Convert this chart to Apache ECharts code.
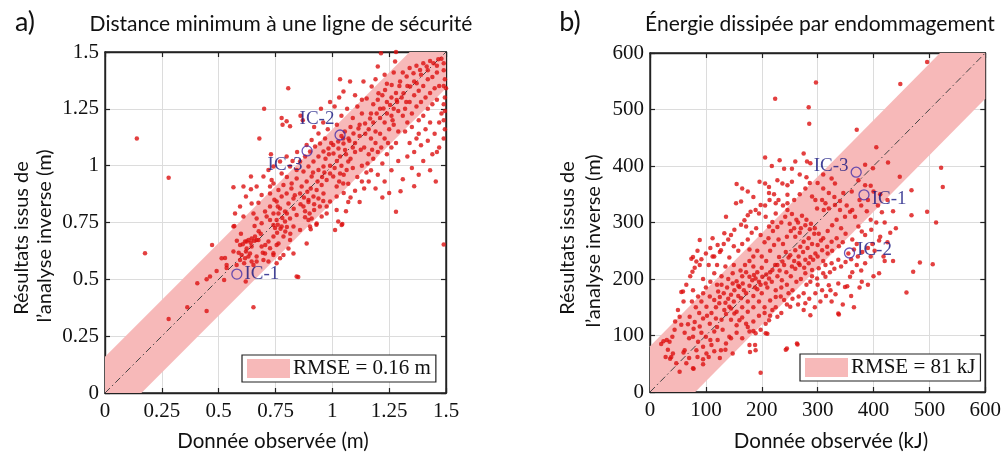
<!DOCTYPE html>
<html><head><meta charset="utf-8">
<script src="https://cdn.jsdelivr.net/npm/echarts@6/dist/echarts.min.js"></script>
<style>html,body{margin:0;padding:0;background:#fff}#c{width:1004px;height:452px}</style>
</head><body><div id="c"></div>
<script>
// ---------- tick values ----------
const ticksA = [0, 0.25, 0.5, 0.75, 1, 1.25, 1.5];
const ticksB = [0, 100, 200, 300, 400, 500, 600];
const rmseA = 0.16, rmseB = 81;
const legendA = 'RMSE = 0.16 m', legendB = 'RMSE = 81 kJ';
const titleA = 'Distance minimum à une ligne de sécurité';
const titleB = 'Énergie dissipée par endommagement';
const xNameA = 'Donnée observée (m)', xNameB = 'Donnée observée (kJ)';
const yName1 = 'Résultats issus de', yName2 = 'l’analyse inverse (m)';

// ---------- panel a points [observed, inverse] ----------
const pointsA = [
[0.14,1.12],[0.176,0.615],[0.28,0.947],[0.28,0.326],[0.362,0.377],[0.406,0.483],[0.447,0.361],[0.447,0.50],[0.462,0.512],[0.471,0.651],[0.491,0.537],[0.513,0.593],[0.524,0.497],[0.535,0.563],[0.528,0.594],[0.535,0.55],
[0.565,0.622],[0.569,0.735],[0.588,0.617],[0.606,0.654],[0.623,0.666],[0.641,0.661],[0.656,0.670],[0.667,0.673],[0.645,0.644],[0.620,0.622],[0.601,0.607],[0.631,0.600],[0.612,0.571],[0.594,0.585],[0.645,0.578],[0.653,0.563],[0.667,0.600],[0.694,0.617],[0.579,0.563],[0.619,0.490],[0.653,0.377],[0.565,0.905],[0.609,0.908],[0.642,0.896],[0.642,0.952],[0.594,0.82],[0.620,0.864],[0.645,0.834],[0.675,0.837],[0.679,1.12],[0.70,1.25],[0.565,0.732],[0.572,0.790],[0.609,0.776],[0.653,0.790],[0.667,0.768],[0.689,0.747],[0.594,0.651],[0.616,0.666],[0.631,0.673],[0.645,0.680],[0.660,0.688],[0.623,0.636],[0.638,0.614],[0.675,0.673],[0.689,0.644],[0.697,0.585],[0.616,0.593],[0.667,0.578],[0.689,0.871],[0.667,0.908],[0.697,0.952],[0.676,0.712],[0.658,0.735],[0.685,0.70],[0.598,0.70],[0.58,0.67],
[0.705,0.651],[0.726,0.637],[0.741,0.615],[0.755,0.651],[0.726,0.878],[0.726,0.908],[0.741,0.922],[0.733,0.937],[0.704,0.798],[0.726,0.761],[0.741,0.739],[0.755,0.761],[0.763,0.790],[0.777,0.732],[0.792,0.754],[0.814,0.768],[0.843,0.783],[0.829,0.856],[0.807,0.834],[0.719,0.666],[0.741,0.688],[0.763,0.658],[0.785,0.688],[0.814,0.673],[0.829,0.614],[0.770,0.593],[0.741,0.607],[0.704,0.614],[0.719,0.578],[0.755,0.571],[0.785,0.607],[0.807,0.636],[0.843,0.512],[0.726,0.820],[0.755,0.842],[0.770,0.812],[0.792,0.798],[0.741,0.790],[0.711,0.776],[0.829,0.732],[0.799,0.878],[0.777,0.864],[0.785,0.915],[0.763,0.893],[0.843,0.944],[0.821,0.922],[0.843,0.981],[0.814,0.996],[0.719,0.981],[0.741,0.996],[0.777,0.966],[0.770,1.018],[0.799,1.040],[0.777,1.21],[0.799,1.195],[0.781,1.18],[0.814,1.173],[0.806,1.34],[0.73,1.05],[0.757,0.705],[0.772,0.722],[0.748,0.726],[0.793,0.71],[0.80,0.73],[0.76,0.74],[0.815,0.70],[0.78,0.77],[0.80,0.79],[0.83,0.81],[0.76,0.82],[0.745,0.85],[0.82,0.90],[0.835,0.87],[0.80,0.95],[0.825,1.02],[0.845,1.06],
[0.858,0.717],[0.880,0.773],[0.895,0.761],[0.909,0.768],[0.873,0.820],[0.895,0.849],[0.917,0.864],[0.858,0.878],[0.902,0.732],[0.931,0.746],[0.953,0.776],[0.975,0.790],[0.975,0.820],[0.990,0.842],[0.961,0.878],[0.939,0.856],[0.931,0.893],[0.953,0.915],[0.975,0.937],[0.990,0.966],[0.961,0.996],[0.939,0.981],[0.909,0.952],[0.887,0.930],[0.865,0.908],[0.917,1.018],[0.939,1.040],[0.961,1.062],[0.983,1.076],[0.895,0.996],[0.873,0.974],[0.858,1.018],[0.880,1.040],[0.902,1.062],[0.924,1.084],[0.946,1.098],[0.968,1.120],[0.939,1.142],[0.909,1.113],[0.887,1.091],[0.85,0.51],[0.887,0.658],[0.86,0.83],[0.875,0.86],[0.89,0.885],[0.905,0.90],[0.92,0.83],[0.945,0.82],[0.96,0.845],[0.88,0.80],[0.90,0.79],[0.92,0.805],[0.895,0.84],[0.87,1.20],[0.86,1.22],[0.92,1.17],[0.96,1.19],[0.98,1.16],[0.95,1.25],[0.99,1.28],[0.985,1.05],[0.995,1.10],[0.97,1.03],[0.955,0.95],[0.935,0.93],[0.915,0.97],[0.965,0.97],[0.99,1.00],[0.93,0.74],[0.905,0.72],
[1.019,0.805],[1.026,0.754],[1.041,0.739],[1.012,0.717],[1.019,0.864],[1.048,0.922],[1.019,0.908],[1.004,0.952],[1.034,0.966],[1.063,0.981],[1.004,1.091],[1.026,1.106],[1.048,1.120],[1.034,1.040],[1.056,1.069],[1.070,1.018],[1.034,1.38],[1.078,1.37],[1.049,1.326],[1.093,1.142],[1.071,1.12],[1.049,1.098],[1.027,1.076],[1.005,1.054],[1.137,1.37],[1.115,1.164],[1.144,1.186],[1.02,1.18],[1.04,1.22],[1.065,1.25],[1.09,1.21],[1.11,1.26],[1.13,1.23],[1.08,1.17],[1.10,1.10],[1.12,1.13],[1.14,1.08],[1.06,1.05],[1.08,1.03],[1.10,1.06],[1.13,1.00],[1.09,0.99],[1.11,0.95],[1.07,0.92],[1.05,0.88],[1.08,0.86],[1.12,0.84],[1.06,0.80],[1.14,0.90],[1.04,1.00],[1.02,1.02],[1.01,0.99],[1.03,0.93],[1.05,0.96],[1.12,1.18],[1.145,1.14],[1.125,1.07],[1.09,1.08],[1.075,1.11],[1.055,1.15],[1.04,1.13],[1.10,1.31],[1.13,1.29],[1.01,1.26],[1.03,1.30],[1.10,0.89],[1.13,0.93],[1.15,0.97],[1.07,0.84],[1.044,0.743],
[1.151,1.296],[1.173,1.348],[1.200,1.436],[1.214,1.494],[1.203,1.318],[1.232,1.333],[1.261,1.355],[1.276,1.458],[1.225,1.252],[1.254,1.267],[1.195,1.23],[1.166,1.208],[1.283,1.289],[1.28,1.50],[1.28,0.797],[1.30,0.887],[1.16,1.16],[1.18,1.19],[1.19,1.15],[1.21,1.21],[1.23,1.19],[1.24,1.23],[1.26,1.22],[1.27,1.25],[1.29,1.24],[1.17,1.12],[1.19,1.10],[1.21,1.14],[1.23,1.12],[1.25,1.16],[1.27,1.18],[1.29,1.15],[1.16,1.05],[1.18,1.03],[1.20,1.06],[1.22,1.01],[1.24,1.05],[1.26,1.08],[1.28,1.10],[1.17,0.98],[1.20,0.96],[1.23,0.93],[1.26,0.98],[1.29,1.02],[1.16,0.93],[1.19,0.90],[1.25,0.88],[1.22,0.86],[1.18,1.27],[1.20,1.29],[1.22,1.31],[1.24,1.28],[1.26,1.30],[1.28,1.32],[1.19,1.38],[1.23,1.40],[1.27,1.41],[1.24,1.36],[1.21,1.25],[1.17,1.23],[1.265,1.20],[1.285,1.28],[1.295,1.35],[1.155,1.01],[1.175,1.07],[1.215,1.08],[1.245,1.10],
[1.298,1.37],[1.327,1.392],[1.357,1.406],[1.386,1.421],[1.415,1.436],[1.445,1.45],[1.466,1.468],[1.342,1.348],[1.371,1.362],[1.313,1.318],[1.455,0.93],[1.49,0.653],[1.48,1.47],[1.32,1.25],[1.34,1.28],[1.36,1.31],[1.38,1.33],[1.40,1.35],[1.42,1.38],[1.44,1.39],[1.46,1.41],[1.31,1.22],[1.33,1.19],[1.35,1.23],[1.37,1.26],[1.39,1.28],[1.41,1.30],[1.43,1.32],[1.45,1.34],[1.32,1.15],[1.35,1.17],[1.38,1.20],[1.40,1.22],[1.42,1.25],[1.44,1.27],[1.46,1.29],[1.34,1.10],[1.37,1.12],[1.41,1.16],[1.43,1.19],[1.33,1.04],[1.36,1.06],[1.39,1.09],[1.42,1.11],[1.45,1.14],[1.35,0.99],[1.40,1.02],[1.44,1.05],[1.47,1.08],[1.38,0.96],[1.43,0.98],[1.46,1.06],[1.31,0.94],[1.36,0.91],[1.49,1.45],[1.49,1.42],[1.495,1.38],[1.49,1.35],[1.495,1.30],[1.49,1.27],[1.495,1.24],[1.49,1.20],[1.495,1.16],[1.49,1.12],[1.48,1.23],[1.47,1.35],[1.46,1.44],[1.43,1.46],[1.40,1.45],[1.37,1.44],[1.34,1.43],[1.31,1.41],[1.33,1.35],[1.39,1.40],[1.42,1.42],[1.36,1.37],[1.305,1.30],[1.325,1.28],[1.47,1.19],[1.38,1.14],[1.50,1.34]
];
const icA = [['IC-1', 0.58, 0.523], ['IC-2', 1.034, 1.135], ['IC-3', 0.889, 1.065]];

// ---------- panel b points [observed, inverse] ----------
const pointsB = [
[224,519],[297,548],[284,504],[285,475],[206,415],[496,584],[448,545],[370,464],[405,433],[426,406],[447,381],[468,357],[521,397],[524,363],[496,319],[512,300],[468,313],[483,229],[471,213],[459,176],[506,226],[435,232],[420,232],[379,195],[353,187],[332,173],[323,180],[338,137],[287,136],[264,84],[245,77],[198,34],[188,83],[179,71],[185,108],[210,103],[24,90],[36,59],[56,177],[74,236],[76,213],[89,269],[78,41],[95,49],
[275,422],[281,408],[260,408],[325,378],[331,369],[346,352],[361,355],[373,375],[385,366],[237,369],[246,366],[254,372],[206,369],[213,363],[213,352],[246,349],[246,334],[225,334],[290,346],[296,340],[308,340],[314,334],[299,325],[311,322],[320,325],[331,331],[340,322],[349,310],[358,319],[367,310],[373,293],[379,284],[385,278],[396,287],[154,334],[163,337],[180,319],[189,322],[195,316],[198,331],[207,310],[219,301],[213,293],[225,316],[175,313],[169,304],[163,296],[172,293],[136,310],[133,281],[145,278],[151,287],[121,260],[127,251],[112,272],[77,239],[83,231],[89,225],[59,178],
[178,204],[183,198],[189,201],[186,207],[195,195],[201,204],[207,192],[213,201],[166,192],[160,186],[151,180],[145,172],[172,175],[163,166],[219,216],[228,225],[237,231],[231,239],[243,248],[251,242],[260,251],[269,257],[275,266],[284,272],[254,222],[266,228],[278,234],[287,239],[296,245],[308,251],[317,257],[325,266],[334,272],[278,210],[290,216],[302,219],[314,225],[325,228],[337,234],[287,195],[299,201],[314,204],[296,175],[308,180],[320,189],[337,192],[349,186],[358,204],[337,139],[266,169],[278,157],[275,145],[248,175],[240,163],[251,151],[225,180],[234,169],[219,145],[228,133],[213,127],[207,121],[198,110],[189,104],[178,107],[172,121],[207,104],[160,127],[151,139],[142,151],[133,145],[124,157],[115,163],[107,169],[101,151],[92,160],[95,175],[86,169],[77,180],
[71,133],[80,124],[89,116],[77,98],[86,89],[95,80],[83,74],[101,68],[110,83],[121,92],[127,74],[136,86],[142,98],[130,110],[115,107],[107,121],[118,130],[53,133],[56,119],[44,110],[35,89],[30,92],[38,62],[47,51],[41,68],[62,74],[65,51],[77,42],[53,36],[148,68],[178,83],[189,74],[243,75],[263,86],
[140,200],[148,210],[155,196],[162,215],[170,225],[178,232],[150,225],[142,238],[135,222],[128,205],[120,190],[115,210],[108,195],[100,185],[95,200],[105,225],[112,240],[125,248],[132,262],[140,270],[150,258],[158,250],[165,262],[175,270],[182,282],[190,290],[198,278],[205,265],[212,272],[220,285],[228,292],[235,300],[242,310],[250,298],[258,290],[265,300],[272,312],[280,305],[288,298],[295,290],[302,280],[310,272],[318,285],[326,295],[334,305],[342,290],[350,280],[362,270],[370,262],[192,250],[200,240],[208,232],[185,240],[178,252],[215,250],[222,260],[230,270],[238,262],[245,275],[252,285],[260,275],[268,282],[200,220],[192,212],[185,222],[172,212],[165,205],[158,170],[150,160],[140,165],[132,175],[125,168],[118,150],[110,140],[102,135],[95,130],[88,140],[82,150],[75,160],[68,120],[62,105],[70,95],[78,112],[92,105],[100,98],[108,92],[120,115],[128,128],[136,138],[145,148],[155,142],[165,150],[175,160],[185,170],[192,182],[200,175],[210,185],[218,195],[228,205],[236,198],[244,212],[252,205],[260,218],[268,225],[276,220],[284,228],[292,234],[300,240],[310,232],[318,245],[326,250],[338,258],[345,265],[355,245],[365,252],[248,238],[240,225],[232,215],[224,225],[215,212],[208,208],[198,190],[188,185],[178,188],[168,180],[158,188],[148,192],[138,185],[128,190],[122,178],[135,158],[145,128],[155,118],[165,132],[175,142],[185,150],[195,160],[205,150],[215,162],[225,168],[235,185],[245,190],[255,180],[262,195],[270,200],[280,190],[290,205],[300,190],[310,210],[322,212],[330,218],[342,222],[350,230],[360,235],[372,240],[380,248],[390,255],[398,262],[385,228],[378,215],[370,225],[362,212],[395,240],[402,250],[410,268],[405,300],[395,305],[388,320],[378,330],[390,340],[408,330],[415,318],[300,260],[306,268],[290,262],[282,255],[274,248],[266,240],[258,232],[294,280],[286,288],[278,295],[270,290],[262,305],[254,315],[246,322],[238,330],[230,340],[222,350],[214,340],[206,330],[258,340],[268,350],[278,360],[286,370],[300,370],[310,360],[320,352],[330,345],[340,338],[352,330],[362,322],[375,340],[185,345],[175,355],[165,360],[155,368],[196,372],[228,375],[240,395],[254,395],[268,385],[280,380],[232,410],[218,400],[310,385],[115,240],[120,225],[108,255],[100,245],[92,235],[85,250],[80,220],[72,205],[65,190],[60,160],[50,145],[45,125],[40,98],[32,75],[28,62],[20,85],[60,70],[70,60],[85,62],[95,58],[105,62],[115,72],[125,60],[135,75],[145,95],[155,105],[165,95],[175,115],[185,125],[195,135],[205,140],[215,135],[225,150],[235,140],[245,155],[255,165],[265,155],[275,175],[285,165],[295,150],[305,160],[315,170],[325,160],[345,155],[360,170],[365,150],[375,185],[390,190],[400,205],[410,210],[418,240],[425,265],[430,282],[440,290],[412,275],[420,300],[435,320],[425,340],[412,350],[400,355],[395,365],[385,402],[399,396],[287,405]
];
const icB = [['IC-1', 383, 349], ['IC-2', 357, 246], ['IC-3', 369, 389]];

// label placement of the annotations [position, offsetX, offsetY]
const icLabelPosA = {'IC-1': ['right', 0, 0], 'IC-2': ['left', 2, -16], 'IC-3': ['left', 3, 14]};
const icLabelPosB = {'IC-1': ['right', 0, 4], 'IC-2': ['right', 0, -3], 'IC-3': ['left', 0, -6]};

const SERIF = 'Liberation Serif';
const SANS = 'Lato';
const RED = '#dc1010';
const BAND = '#f7b9b9';

function bandPoly(r, lo, hi) {
  return [[lo, lo], [lo + r, lo], [hi, hi - r], [hi, hi], [hi - r, hi], [lo, lo + r]];
}

function axesFor(ticks, gi) {
  const min = ticks[0], max = ticks[ticks.length - 1], interval = ticks[1] - ticks[0];
  const base = {
    type: 'value', min, max, interval, gridIndex: gi,
    axisLine: {show: true, onZero: false, lineStyle: {color: '#222', width: 1.4}},
    axisTick: {show: true, inside: true, length: 5, lineStyle: {color: '#222', width: 1.2}},
    splitLine: {show: true, lineStyle: {color: '#dcdcdc', width: 1}},
    axisLabel: {fontFamily: SERIF, fontSize: 21, color: '#111', formatter: v => String(v)}
  };
  const x = Object.assign({}, base, {position: 'bottom', axisLabel: Object.assign({}, base.axisLabel, {margin: 8})});
  const xt = Object.assign({}, base, {position: 'top', axisLabel: {show: false}, splitLine: {show: false}});
  const y = Object.assign({}, base, {position: 'left', axisLabel: Object.assign({}, base.axisLabel, {margin: 6})});
  const yr = Object.assign({}, base, {position: 'right', axisLabel: {show: false}, splitLine: {show: false}});
  return {x: [x, xt], y: [y, yr]};
}

const axA = axesFor(ticksA, 0), axB = axesFor(ticksB, 1);

function panelSeries(points, ic, labelPos, ticks, rmse, legendName, xi, yi) {
  const lo = ticks[0], hi = ticks[ticks.length - 1];
  const poly = bandPoly(rmse, lo, hi);
  return [
    {
      type: 'custom', name: legendName, xAxisIndex: xi, yAxisIndex: yi,
      itemStyle: {color: BAND}, z: 1, silent: true,
      data: [[lo, lo]],
      renderItem: (params, api) => ({
        type: 'polygon',
        shape: {points: poly.map(p => api.coord(p))},
        style: {fill: BAND}
      })
    },
    {
      type: 'line', xAxisIndex: xi, yAxisIndex: yi, z: 2, silent: true,
      data: [[lo, lo], [hi, hi]], symbol: 'none',
      lineStyle: {color: '#444', width: 1, type: [7, 3, 1.5, 3]}
    },
    {
      type: 'scatter', xAxisIndex: xi, yAxisIndex: yi, z: 3, silent: true,
      data: points, symbolSize: 4.5,
      itemStyle: {color: RED}
    },
    {
      type: 'scatter', xAxisIndex: xi, yAxisIndex: yi, z: 4, silent: true,
      symbol: 'circle', symbolSize: 10,
      itemStyle: {color: 'rgba(0,0,0,0)', borderColor: '#4530aa', borderWidth: 1.3},
      data: ic.map(d => ({
        name: d[0], value: [d[1], d[2]],
        label: {
          show: true, formatter: d[0], position: labelPos[d[0]][0], distance: 2,
          offset: [labelPos[d[0]][1], labelPos[d[0]][2]],
          fontFamily: SERIF, fontSize: 19, color: '#15157f'
        }
      }))
    }
  ];
}

function legendFor(name, left, top) {
  return {
    data: [name], left, top, orient: 'horizontal', selectedMode: false,
    icon: 'rect', itemWidth: 43, itemHeight: 19, padding: [3, 5, 3, 5],
    borderColor: '#222', borderWidth: 1.2, backgroundColor: '#fff', borderRadius: 0,
    textStyle: {fontFamily: SERIF, fontSize: 21, color: '#111', padding: [0, 0, 0, -2]}
  };
}

function txt(text, x, y, size, family, rot) {
  return {
    type: 'text', x, y, rotation: rot || 0, z: 10,
    style: {text, fontSize: size, fontFamily: family, fill: '#111', align: 'center', verticalAlign: 'middle'}
  };
}

const chart = echarts.init(document.getElementById('c'));
chart.setOption({
  animation: false,
  backgroundColor: '#fff',
  grid: [
    {left: 105, top: 52, width: 341, height: 341, show: true, borderColor: '#222', borderWidth: 1.4},
    {left: 650, top: 53, width: 338, height: 339, show: true, borderColor: '#222', borderWidth: 1.4}
  ],
  xAxis: [axA.x[0], axA.x[1], axB.x[0], axB.x[1]],
  yAxis: [axA.y[0], axA.y[1], axB.y[0], axB.y[1]],
  legend: [legendFor(legendA, 242, 355), legendFor(legendB, 800, 354)],
  series: [].concat(
    panelSeries(pointsA, icA, icLabelPosA, ticksA, rmseA, legendA, 0, 0),
    panelSeries(pointsB, icB, icLabelPosB, ticksB, rmseB, legendB, 2, 2)
  ),
  graphic: [
    txt('a)', 25, 22, 27, SANS),
    txt('b)', 570, 22, 27, SANS),
    txt(titleA, 281, 24, 21, SANS),
    txt(titleB, 820, 24, 21, SANS),
    txt(xNameA, 273, 441, 20.5, SANS),
    txt(xNameB, 831, 441, 20.5, SANS),
    txt(yName1, 22, 238, 20, SANS, Math.PI / 2),
    txt(yName2, 45, 236, 20, SANS, Math.PI / 2),
    txt(yName1, 568, 238, 20, SANS, Math.PI / 2),
    txt(yName2, 594, 241, 20, SANS, Math.PI / 2)
  ]
});
</script></body></html>
